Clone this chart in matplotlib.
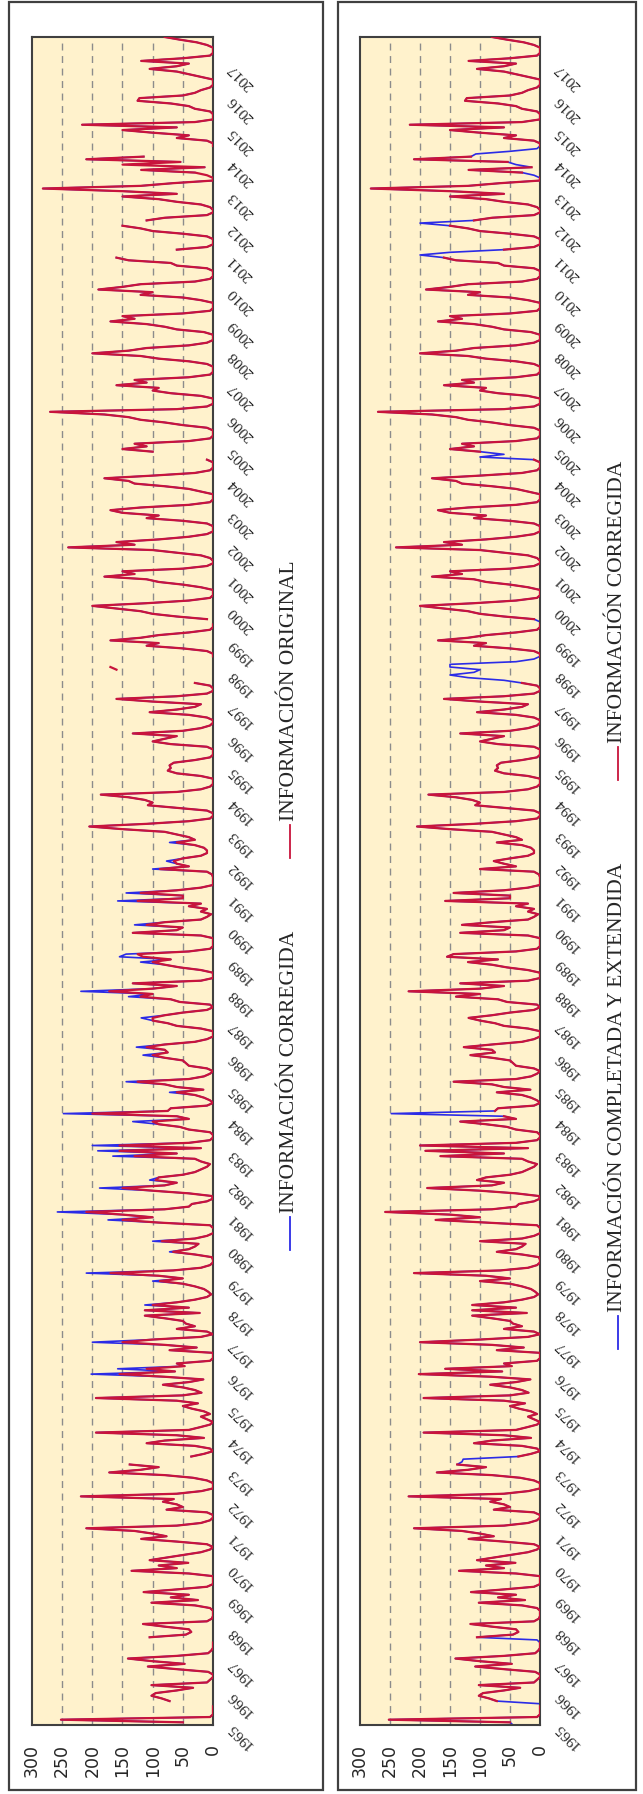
import numpy as np
import matplotlib
matplotlib.use('Agg')
import matplotlib.pyplot as plt
from matplotlib.patches import Rectangle
from matplotlib.lines import Line2D

# ---------------- data ----------------
years = list(range(1965, 2018))
value_ticks = [0, 50, 100, 150, 200, 250, 300]
value_labels = ["0", "50", "100", "150", "200", "250", "300"]

# completed & extended monthly series (Jan..Dec), grouped by decade
comp_1965_1974 = [
    45, 50, 252, 5, 0, 0, 0, 0, 0, 72, 85, 102,
    95, 60, 33, 102, 10, 5, 0, 0, 8, 60, 108, 47,
    100, 141, 60, 8, 3, 0, 0, 0, 5, 105, 45, 36,
    40, 80, 116, 10, 2, 0, 0, 0, 5, 30, 102, 25,
    70, 40, 115, 60, 10, 0, 0, 0, 0, 40, 135, 60,
    90, 41, 105, 77, 50, 20, 5, 0, 10, 60, 119, 77,
    100, 130, 210, 60, 20, 5, 0, 0, 10, 77, 50, 60,
    83, 65, 219, 60, 19, 0, 0, 0, 10, 33, 80, 172,
    120, 90, 138, 130, 128, 36, 15, 0, 5, 30, 110, 80,
    15, 60, 194, 40, 22, 5, 0, 10, 20, 5, 15, 35,
]
comp_1975_1984 = [
    50, 25, 60, 194, 50, 19, 30, 50, 83, 40, 16, 80,
    202, 63, 158, 47, 60, 5, 0, 0, 0, 72, 27, 80,
    200, 100, 20, 0, 10, 60, 30, 45, 50, 80, 113, 22,
    113, 40, 113, 60, 30, 10, 3, 8, 15, 30, 50, 100,
    50, 90, 210, 66, 20, 5, 0, 0, 2, 30, 72, 40,
    30, 24, 100, 30, 10, 0, 0, 0, 5, 90, 174, 100,
    150, 258, 80, 40, 35, 10, 0, 2, 40, 100, 188, 80,
    60, 105, 90, 50, 30, 20, 10, 5, 20, 30, 166, 60,
    191, 20, 200, 40, 5, 0, 0, 5, 40, 55, 90, 133,
    40, 60, 248, 75, 70, 10, 0, 5, 15, 30, 72, 16,
]
comp_1985_1994 = [
    60, 80, 144, 40, 15, 5, 0, 10, 40, 45, 50, 80,
    116, 75, 80, 127, 80, 30, 10, 0, 0, 0, 20, 60,
    75, 100, 119, 80, 50, 10, 0, 5, 55, 70, 140, 100,
    219, 100, 60, 133, 20, 0, 0, 0, 20, 55, 80, 120,
    70, 155, 144, 40, 5, 0, 0, 0, 0, 20, 133, 60,
    50, 130, 80, 20, 10, 3, 20, 10, 40, 20, 158, 50,
    50, 144, 60, 20, 0, 0, 0, 0, 2, 10, 100, 40,
    60, 77, 50, 20, 10, 10, 15, 30, 72, 30, 40, 60,
    80, 150, 205, 110, 40, 5, 0, 0, 10, 60, 108, 100,
    113, 140, 186, 60, 20, 5, 0, 0, 0, 20, 60, 75,
]
comp_1995_2004 = [
    70, 72, 65, 30, 5, 0, 0, 0, 10, 70, 100, 80,
    60, 133, 50, 20, 5, 0, 0, 10, 40, 105, 60, 30,
    20, 100, 160, 60, 10, 0, 0, 5, 30, 60, 120, 150,
    110, 100, 150, 150, 40, 10, 0, 0, 10, 50, 110, 90,
    170, 120, 90, 40, 5, 0, 0, 0, 10, 60, 100, 120,
    160, 200, 110, 40, 5, 0, 0, 0, 20, 50, 90, 110,
    180, 130, 150, 50, 10, 0, 0, 5, 20, 60, 100, 240,
    130, 160, 90, 40, 10, 0, 0, 0, 10, 50, 110, 90,
    150, 170, 120, 40, 5, 0, 0, 0, 20, 40, 80, 130,
    140, 180, 100, 30, 5, 0, 0, 0, 10, 100, 60, 100,
]
comp_2005_2017 = [
    150, 110, 130, 40, 5, 0, 0, 0, 10, 50, 80, 120,
    140, 180, 270, 60, 10, 0, 0, 0, 20, 70, 100, 90,
    160, 110, 130, 40, 5, 0, 0, 0, 10, 40, 90, 120,
    200, 140, 110, 40, 10, 0, 0, 0, 15, 60, 80, 110,
    170, 130, 150, 50, 5, 0, 0, 0, 20, 50, 120, 100,
    190, 150, 120, 30, 5, 0, 0, 0, 10, 60, 70, 140,
    160, 200, 150, 60, 10, 0, 0, 0, 10, 50, 100, 120,
    150, 200, 110, 80, 10, 0, 0, 5, 20, 60, 90, 150,
    60, 150, 282, 120, 67, 0, 0, 10, 30, 119, 14, 40,
    54, 210, 115, 107, 50, 5, 0, 0, 10, 60, 40, 100,
    150, 60, 217, 30, 0, 0, 0, 5, 30, 40, 70, 125,
    122, 50, 30, 20, 5, 0, 0, 0, 20, 40, 60, 105,
    60, 40, 119, 50, 5, 0, 0, 0, 10, 27, 55, 80,
]

# months (index from Jan 1965) missing in the corrected series
corr_gap_months = [0, 8, 32, 99, 100, 186, 393, 394, 395, 396, 397, 398, 399,
                   400, 401, 415, 477, 478, 553, 554, 565, 583, 587, 591, 592, 593]
# extra months left blank in the corrected series of the right panel
right_gap_months = [230]

# months where the original record differs from the corrected one
orig_diff_months = [132, 134, 144, 158, 167, 170, 178, 182, 190, 193, 202, 205,
                    214, 216, 218, 227, 230, 238, 242, 252, 255, 266, 274, 276,
                    287, 289, 290, 301, 310, 313, 322, 325, 332,
                    397, 398, 583, 587]
orig_diff_values = [155, 110, 150, 100, 88, 170, 66, 85, 150, 210, 150, 95,
                    130, 155, 155, 100, 200, 60, 125, 100, 110, 100, 120, 172,
                    100, 116, 125, 110, 125, 120, 88, 65, 60,
                    160, 170, 10, 150]

# ---------------- series assembly ----------------
completed = np.array(comp_1965_1974 + comp_1975_1984 + comp_1985_1994
                     + comp_1995_2004 + comp_2005_2017, dtype=float)
months = np.arange(len(completed))
corrected = completed.copy()
corrected[corr_gap_months] = np.nan
original = corrected.copy()
original[orig_diff_months] = orig_diff_values
corrected_right = corrected.copy()
corrected_right[right_gap_months] = np.nan

# ---------------- figure ----------------
W, H = 643, 1794
fig = plt.figure(figsize=(W / 100, H / 100), dpi=100)
fig.patch.set_facecolor('white')

RED = '#C8143C'
BLUE = '#2B2BE6'
BG = '#FFF2CC'
SPINE = '#404040'
GRID = '#8C8C8C'
TXT = '#262626'


def px_rect(x0, y0, x1, y1):
    """pixel box (top-left origin) -> figure fraction [l, b, w, h]"""
    return [x0 / W, (H - y1) / H, (x1 - x0) / W, (y1 - y0) / H]


def outer_box(x0, y0, x1, y1):
    l, b, w, h = px_rect(x0, y0, x1, y1)
    fig.add_artist(Rectangle((l, b), w, h, transform=fig.transFigure,
                             fill=False, ec=SPINE, lw=1.6, zorder=0))


def make_panel(x0, x1, back, front):
    ax = fig.add_axes(px_rect(x0, 37, x1, 1725))
    ax.set_facecolor(BG)
    for v in value_ticks[1:-1]:
        ax.axvline(v, color=GRID, lw=1.0, ls=(0, (5, 4)), zorder=1)
    ax.plot(back, months, color=BLUE, lw=1.2, zorder=2)
    ax.plot(front, months, color=RED, lw=1.6, zorder=3)
    ax.set_xlim(300, 0)
    ax.set_ylim(0, len(months) - 1)
    ax.set_yticks([])
    ax.set_xticks(value_ticks)
    ax.set_xticklabels(value_labels, rotation=90, fontsize=12.5,
                       family='DejaVu Sans', color=TXT)
    ax.tick_params(axis='x', length=0, pad=14)
    for s in ax.spines.values():
        s.set_color(SPINE)
        s.set_linewidth(1.5)
    width_px = x1 - x0
    for i, y in enumerate(years):
        ax.text(1 + 17 / width_px, 12 * i, str(y), transform=ax.get_yaxis_transform(),
                rotation=135, rotation_mode='anchor', ha='right', va='center',
                fontsize=11, family='Liberation Serif', color=TXT, clip_on=False)
    return ax


def legend_item(x_px, y_line_bottom, color, label):
    yb = (H - y_line_bottom) / H
    yt = (H - (y_line_bottom - 33)) / H
    xf = x_px / W
    fig.add_artist(Line2D([xf, xf], [yb, yt], transform=fig.transFigure,
                          color=color, lw=1.3))
    fig.text(xf, (H - (y_line_bottom - 37)) / H, label, rotation=90,
             ha='center', va='bottom', fontsize=15.5, family='Liberation Serif',
             color=TXT)


outer_box(9, 2, 323, 1790)
outer_box(338, 2, 636, 1790)

ax1 = make_panel(32, 213, corrected, original)
ax2 = make_panel(360, 540, completed, corrected_right)

legend_item(290, 1250, BLUE, 'INFORMACIÓN CORREGIDA')
legend_item(290, 858, RED, 'INFORMACIÓN ORIGINAL')
legend_item(618, 1349, BLUE, 'INFORMACIÓN COMPLETADA Y EXTENDIDA')
legend_item(618, 780, RED, 'INFORMACIÓN CORREGIDA')

fig.savefig('out.png', dpi=100)
